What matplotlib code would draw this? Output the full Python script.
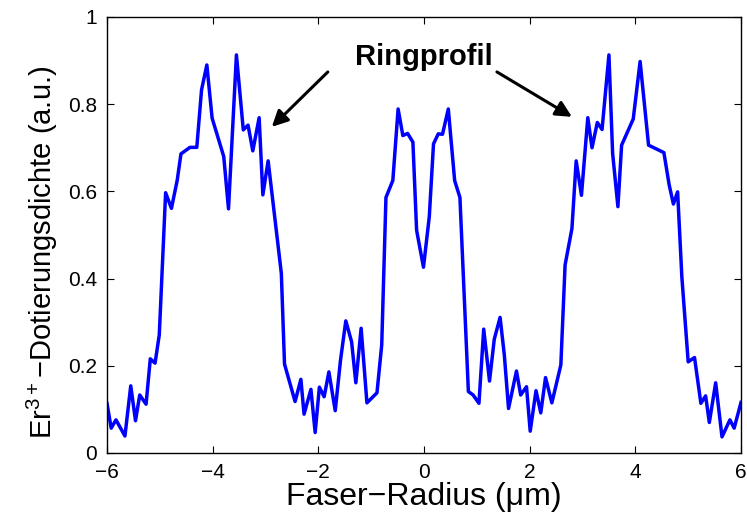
import matplotlib
matplotlib.use("Agg")
import matplotlib.pyplot as plt

plt.rcParams['font.family'] = ['Liberation Sans', 'DejaVu Sans']
plt.rcParams['mathtext.fontset'] = 'custom'
plt.rcParams['mathtext.rm'] = 'Liberation Sans'

radius = [-6.00, -5.92, -5.83, -5.66, -5.55, -5.46, -5.38, -5.26, -5.18, -5.09,
          -5.01, -4.89, -4.78, -4.67, -4.60, -4.43, -4.30, -4.21, -4.11, -4.01,
          -3.79, -3.70, -3.55, -3.42, -3.33, -3.24, -3.12, -3.05, -2.95, -2.70,
          -2.64, -2.44, -2.33, -2.27, -2.14, -2.06, -1.98, -1.89, -1.80, -1.68,
          -1.58, -1.48, -1.37, -1.29, -1.19, -1.08, -0.89, -0.80, -0.72, -0.59,
          -0.49, -0.40, -0.31, -0.21, -0.14, -0.01, 0.10, 0.18, 0.27, 0.35,
          0.46, 0.58, 0.68, 0.84, 0.93, 1.04, 1.13, 1.24, 1.33, 1.44,
          1.52, 1.60, 1.75, 1.83, 1.94, 2.01, 2.12, 2.21, 2.30, 2.42,
          2.59, 2.67, 2.80, 2.88, 2.98, 3.10, 3.18, 3.28, 3.37, 3.50,
          3.57, 3.67, 3.74, 3.96, 4.09, 4.25, 4.54, 4.64, 4.72, 4.80,
          4.88, 5.00, 5.12, 5.24, 5.33, 5.40, 5.52, 5.64, 5.79, 5.87, 6.00]
density = [0.114, 0.057, 0.076, 0.039, 0.154, 0.074, 0.133, 0.112, 0.216, 0.206,
           0.271, 0.597, 0.561, 0.626, 0.686, 0.701, 0.701, 0.833, 0.890, 0.768,
           0.680, 0.560, 0.913, 0.741, 0.752, 0.693, 0.769, 0.592, 0.670, 0.412,
           0.204, 0.118, 0.169, 0.089, 0.146, 0.047, 0.151, 0.129, 0.186, 0.097,
           0.213, 0.303, 0.255, 0.161, 0.286, 0.115, 0.138, 0.248, 0.586, 0.625,
           0.789, 0.728, 0.733, 0.713, 0.511, 0.426, 0.542, 0.709, 0.732, 0.731,
           0.789, 0.625, 0.586, 0.141, 0.133, 0.114, 0.284, 0.165, 0.261, 0.311,
           0.225, 0.102, 0.188, 0.133, 0.152, 0.050, 0.143, 0.092, 0.173, 0.115,
           0.202, 0.431, 0.515, 0.670, 0.591, 0.769, 0.700, 0.758, 0.742, 0.913,
           0.687, 0.565, 0.706, 0.766, 0.898, 0.706, 0.689, 0.615, 0.571, 0.599,
           0.404, 0.209, 0.219, 0.114, 0.131, 0.070, 0.161, 0.037, 0.076, 0.057, 0.116]

xticks = [-6, -4, -2, 0, 2, 4, 6]
xticklabels = ['\u22126', '\u22124', '\u22122', '0', '2', '4', '6']
yticks = [0, 0.2, 0.4, 0.6, 0.8, 1]
yticklabels = ['0', '0.2', '0.4', '0.6', '0.8', '1']

annot_text = 'Ringprofil'
annot_pos = (0.0, 0.908)
arrow_left = ((-1.82, 0.874), (-2.88, 0.748))
arrow_right = ((1.38, 0.874), (2.80, 0.771))

fig = plt.figure(figsize=(7.47, 5.15), dpi=100)
ax = fig.add_axes([0.1432, 0.1204, 0.8488, 0.8466])
ax.plot(radius, density, color=(0, 0, 1), lw=2.5)
ax.set_xlim(-6, 6)
ax.set_ylim(0, 1)
ax.set_xticks(xticks)
ax.set_xticklabels(xticklabels)
ax.set_yticks(yticks)
ax.set_yticklabels(yticklabels)
ax.tick_params(direction='in', length=5, width=0.8, top=True, right=True,
               labelsize=15, pad=7)
for s in ax.spines.values():
    s.set_linewidth(1.0)

ax.set_xlabel('Faser\u2212Radius (\u03bcm)', fontsize=23, labelpad=0)
ax.set_ylabel('Er$^{3+}$\u2212Dotierungsdichte (a.u.)', fontsize=21)
ax.yaxis.set_label_coords(-0.074, 0.461)

ax.text(annot_pos[0], annot_pos[1], annot_text, fontsize=21, fontweight='bold',
        ha='center', va='center')
for tail, head in (arrow_left, arrow_right):
    ax.annotate('', xy=head, xytext=tail,
                arrowprops=dict(arrowstyle='-|>', color='k', lw=2.2,
                                mutation_scale=24, shrinkA=0, shrinkB=0))

fig.savefig('out.png', dpi=100)
